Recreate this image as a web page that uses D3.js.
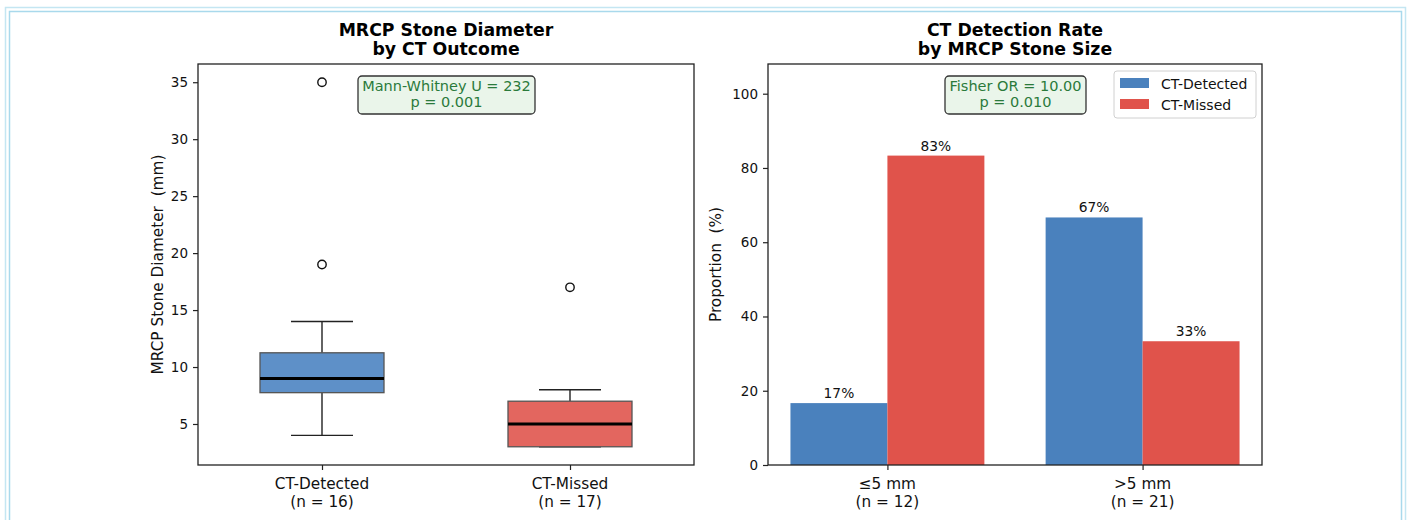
<!DOCTYPE html>
<html>
<head>
<meta charset="utf-8">
<script src="https://cdn.jsdelivr.net/npm/d3@7"></script>
<style>
  html, body { margin: 0; padding: 0; background: #ffffff; }
  svg { display: block; font-family: "DejaVu Sans", sans-serif; }
</style>
</head>
<body>
<svg id="chart" width="1409" height="520"></svg>
<script>
// ---------- Data ----------
const boxCategories = ["CT-Detected", "CT-Missed"];
const boxCounts = [16, 17];
const boxQ1 = [7.75, 3];
const boxMedian = [9, 5];
const boxQ3 = [11.25, 7];
const boxWhiskerLow = [4, 3];
const boxWhiskerHigh = [14, 8];
const boxOutliers = [[19, 35], [17]];
const boxYTicks = [5, 10, 15, 20, 25, 30, 35];

const barCategories = ["\u22645 mm", ">5 mm"];
const barCounts = [12, 21];
const seriesNames = ["CT-Detected", "CT-Missed"];
const detectedPct = [16.67, 66.67];
const missedPct = [83.33, 33.33];
const barYTicks = [0, 20, 40, 60, 80, 100];

const leftTitle = ["MRCP Stone Diameter", "by CT Outcome"];
const rightTitle = ["CT Detection Rate", "by MRCP Stone Size"];
const leftStat = ["Mann-Whitney U = 232", "p = 0.001"];
const rightStat = ["Fisher OR = 10.00", "p = 0.010"];

// ---------- Styles ----------
const boxFill = ["#5e90c8", "#e3665f"];
const barFill = ["#4a81bd", "#e0534b"];
const axisColor = "#222";
const statGreen = "#2a7a3b";

const svg = d3.select("#chart");

// Outer decorative border (double light-blue line)
svg.append("rect").attr("x", 5.5).attr("y", 7.5).attr("width", 1400).attr("height", 530)
  .attr("fill", "none").attr("stroke", "#c4e6f2").attr("stroke-width", 1.5);
svg.append("rect").attr("x", 9.5).attr("y", 11.5).attr("width", 1392).attr("height", 530)
  .attr("fill", "none").attr("stroke", "#a9d9ec").attr("stroke-width", 1.5);

function drawTitle(lines, cx) {
  const t = svg.append("text").attr("text-anchor", "middle")
    .attr("font-size", 17.3).attr("font-weight", "bold").attr("fill", "#000");
  t.append("tspan").attr("x", cx).attr("y", 35.5).text(lines[0]);
  t.append("tspan").attr("x", cx).attr("y", 55).text(lines[1]);
}

function drawStat(lines, cx, x0, x1, y0, y1) {
  svg.append("rect").attr("x", x0).attr("y", y0).attr("width", x1 - x0).attr("height", y1 - y0)
    .attr("rx", 4).attr("ry", 4)
    .attr("fill", "#eaf5ea").attr("stroke", "#333").attr("stroke-width", 1.3);
  const t = svg.append("text").attr("text-anchor", "middle").attr("font-size", 14.5).attr("fill", statGreen);
  t.append("tspan").attr("x", cx).attr("y", y0 + 15).text(lines[0]);
  t.append("tspan").attr("x", cx).attr("y", y0 + 31).text(lines[1]);
}

function styleAxis(g) {
  g.selectAll(".domain").remove();
  g.selectAll(".tick line").attr("stroke", axisColor).attr("stroke-width", 1.2);
  g.selectAll(".tick text").attr("fill", "#111").attr("font-size", 13.5)
    .attr("font-family", "DejaVu Sans, sans-serif");
}

// ============ LEFT PANEL: Box plot ============
const L = { x0: 198, x1: 694, y0: 64, y1: 465 };
const xL = d3.scaleLinear().domain([0.5, 2.5]).range([L.x0, L.x1]);
const yL = d3.scaleLinear().domain([1.4, 36.6]).range([L.y1, L.y0]);
const boxW = 0.5;

const gyL = svg.append("g").attr("transform", `translate(${L.x0},0)`)
  .call(d3.axisLeft(yL).tickValues(boxYTicks).tickSize(5).tickPadding(5));
styleAxis(gyL);

const gxL = svg.append("g").attr("transform", `translate(0,${L.y1})`)
  .call(d3.axisBottom(xL).tickValues([1, 2]).tickSize(5).tickFormat(""));
styleAxis(gxL);

boxCategories.forEach((c, i) => {
  const pos = i + 1;
  const cx = xL(pos);
  // whiskers
  svg.append("line").attr("x1", cx).attr("x2", cx).attr("y1", yL(boxQ3[i])).attr("y2", yL(boxWhiskerHigh[i]))
    .attr("stroke", "#222").attr("stroke-width", 1.4);
  svg.append("line").attr("x1", cx).attr("x2", cx).attr("y1", yL(boxQ1[i])).attr("y2", yL(boxWhiskerLow[i]))
    .attr("stroke", "#222").attr("stroke-width", 1.4);
  // caps
  [boxWhiskerHigh[i], boxWhiskerLow[i]].forEach(v => {
    svg.append("line").attr("x1", xL(pos - boxW / 4)).attr("x2", xL(pos + boxW / 4))
      .attr("y1", yL(v)).attr("y2", yL(v)).attr("stroke", "#222").attr("stroke-width", 1.4);
  });
  // box
  svg.append("rect").attr("x", xL(pos - boxW / 2)).attr("width", xL(pos + boxW / 2) - xL(pos - boxW / 2))
    .attr("y", yL(boxQ3[i])).attr("height", yL(boxQ1[i]) - yL(boxQ3[i]))
    .attr("fill", boxFill[i]).attr("stroke", "#555").attr("stroke-width", 1.3);
  // median
  svg.append("line").attr("x1", xL(pos - boxW / 2)).attr("x2", xL(pos + boxW / 2))
    .attr("y1", yL(boxMedian[i])).attr("y2", yL(boxMedian[i]))
    .attr("stroke", "#000").attr("stroke-width", 3);
  // outliers
  boxOutliers[i].forEach(v => {
    svg.append("circle").attr("cx", cx).attr("cy", yL(v)).attr("r", 4.2)
      .attr("fill", "none").attr("stroke", "#111").attr("stroke-width", 1.4);
  });
  // x labels
  const t = svg.append("text").attr("text-anchor", "middle").attr("font-size", 15.3).attr("fill", "#111");
  t.append("tspan").attr("x", cx).attr("y", 489).text(c);
  t.append("tspan").attr("x", cx).attr("y", 507).text(`(n = ${boxCounts[i]})`);
});

svg.append("rect").attr("x", L.x0).attr("y", L.y0).attr("width", L.x1 - L.x0).attr("height", L.y1 - L.y0)
  .attr("fill", "none").attr("stroke", axisColor).attr("stroke-width", 1.3);

svg.append("text").attr("transform", `translate(163,${(L.y0 + L.y1) / 2}) rotate(-90)`)
  .attr("text-anchor", "middle").attr("font-size", 15.3).attr("fill", "#111")
  .attr("xml:space", "preserve").text("MRCP Stone Diameter  (mm)");

drawTitle(leftTitle, (L.x0 + L.x1) / 2);
drawStat(leftStat, 446.5, 358, 535, 76, 114);

// ============ RIGHT PANEL: Grouped bars ============
const R = { x0: 768, x1: 1262, y0: 64, y1: 465 };
const xR = d3.scaleLinear().domain([-0.468, 1.468]).range([R.x0, R.x1]);
const yR = d3.scaleLinear().domain([0, 108]).range([R.y1, R.y0]);
const barW = 0.38;

const gyR = svg.append("g").attr("transform", `translate(${R.x0},0)`)
  .call(d3.axisLeft(yR).tickValues(barYTicks).tickSize(5).tickPadding(5));
styleAxis(gyR);

const gxR = svg.append("g").attr("transform", `translate(0,${R.y1})`)
  .call(d3.axisBottom(xR).tickValues([0, 1]).tickSize(5).tickFormat(""));
styleAxis(gxR);

const seriesVals = [detectedPct, missedPct];
seriesVals.forEach((vals, s) => {
  vals.forEach((v, i) => {
    const left = s === 0 ? i - barW : i;
    svg.append("rect").attr("x", xR(left)).attr("width", xR(left + barW) - xR(left))
      .attr("y", yR(v)).attr("height", yR(0) - yR(v))
      .attr("fill", barFill[s]);
    svg.append("text").attr("x", xR(left + barW / 2)).attr("y", yR(v) - 5)
      .attr("text-anchor", "middle").attr("font-size", 13.8).attr("fill", "#111")
      .text(Math.round(v) + "%");
  });
});

barCategories.forEach((c, i) => {
  const t = svg.append("text").attr("text-anchor", "middle").attr("font-size", 15.3).attr("fill", "#111");
  t.append("tspan").attr("x", xR(i)).attr("y", 489).text(c);
  t.append("tspan").attr("x", xR(i)).attr("y", 507).text(`(n = ${barCounts[i]})`);
});

svg.append("rect").attr("x", R.x0).attr("y", R.y0).attr("width", R.x1 - R.x0).attr("height", R.y1 - R.y0)
  .attr("fill", "none").attr("stroke", axisColor).attr("stroke-width", 1.3);

svg.append("text").attr("transform", `translate(721,${(R.y0 + R.y1) / 2}) rotate(-90)`)
  .attr("text-anchor", "middle").attr("font-size", 15.3).attr("fill", "#111")
  .attr("xml:space", "preserve").text("Proportion  (%)");

drawTitle(rightTitle, (R.x0 + R.x1) / 2);
drawStat(rightStat, 1015.5, 945, 1086, 76, 114);

// legend
const lg = svg.append("g");
lg.append("rect").attr("x", 1114).attr("y", 71).attr("width", 142).attr("height", 47)
  .attr("rx", 3).attr("fill", "#fff").attr("fill-opacity", 0.85)
  .attr("stroke", "#d0d0d0").attr("stroke-width", 1);
seriesNames.forEach((n, s) => {
  const yy = 78 + s * 21;
  lg.append("rect").attr("x", 1120).attr("y", yy).attr("width", 29).attr("height", 10).attr("fill", barFill[s]);
  lg.append("text").attr("x", 1161).attr("y", yy + 10.5).attr("font-size", 14).attr("fill", "#111").text(n);
});
</script>
</body>
</html>
